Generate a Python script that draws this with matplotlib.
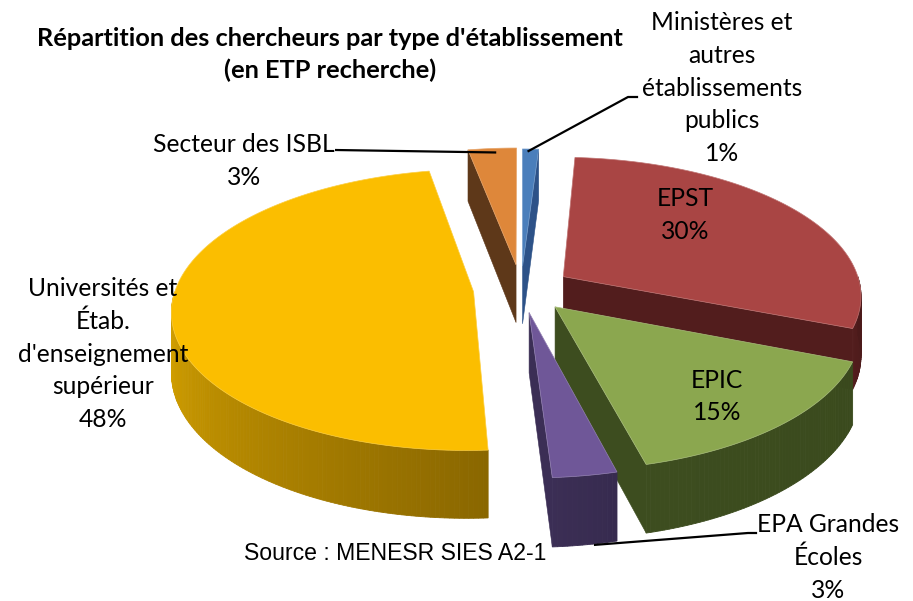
import numpy as np
import matplotlib
matplotlib.use("Agg")
import matplotlib.pyplot as plt
from matplotlib.patches import Polygon
from matplotlib.colors import to_rgb

# ---------------- data ----------------
categories = ["Ministères et\nautres\nétablissements\npublics", "EPST", "EPIC",
              "EPA Grandes\nÉcoles",
              "Universités et\nÉtab.\nd'enseignement\nsupérieur",
              "Secteur des ISBL"]
values = [1, 30, 15, 3, 48, 3]          # percent
pct_labels = ["1%", "30%", "15%", "3%", "48%", "3%"]

# ---------------- styling ----------------
top_colors = ["#4A7EBB", "#A94544", "#8BA74F", "#6F5798", "#FBBE00", "#DE873A"]
wall_light = ["#2D5288", "#521D1D", "#3D4D1F", "#3B2E55", "#DCA700", "#5E3819"]
wall_dark = ["#2D5288", "#4A1A1A", "#3A4A1D", "#372B4F", "#8A6700", "#5E3819"]
explode = [0.17, 0.17, 0.17, 0.17, 0.16, 0.18]

CX, CY = 521.0, 289.0
RX, RY = 298.0, 137.6
PERSP = 0.128
DEPTH = 59.0

W, H = 913, 601
fig = plt.figure(figsize=(W / 100, H / 100), dpi=100)
ax = fig.add_axes([0, 0, 1, 1])
ax.set_xlim(0, W)
ax.set_ylim(H, 0)
ax.axis("off")


def proj(x, y, z=0.0):
    den = 1.0 + PERSP * y
    return CX + RX * x / den, CY + (-RY * y + DEPTH * z) / den


def mix(c1, c2, t):
    a, b = np.array(to_rgb(c1)), np.array(to_rgb(c2))
    return tuple(a * (1 - t) + b * t)


total = float(sum(values))
slices = []
cum = 0.0
for i, v in enumerate(values):
    t2 = 90.0 - cum / total * 360.0
    t1 = t2 - v / total * 360.0
    cum += v
    mid = np.radians((t1 + t2) / 2)
    ox, oy = explode[i] * np.cos(mid), explode[i] * np.sin(mid)
    slices.append(dict(i=i, t1=t1, t2=t2, ox=ox, oy=oy))

# back to front order
slices.sort(key=lambda s: proj(s["ox"], s["oy"])[1])


def rim(s, th, z=0.0):
    r = np.radians(th)
    return proj(s["ox"] + np.cos(r), s["oy"] + np.sin(r), z)


for s in slices:
    i, t1, t2 = s["i"], s["t1"], s["t2"]
    apex_t = proj(s["ox"], s["oy"], 0)
    apex_b = proj(s["ox"], s["oy"], 1)
    # radial faces
    for th, vis in ((t1, np.cos(np.radians(t1)) > 1e-6),
                    (t2, np.cos(np.radians(t2)) < -1e-6)):
        if vis:
            pts = [apex_t, rim(s, th, 0), rim(s, th, 1), apex_b]
            ax.add_patch(Polygon(pts, closed=True, fc=wall_light[i],
                                 ec=wall_light[i], lw=0.4))
    # outer wall (front half)
    for k in (-1, 0, 1):
        lo, hi = -180 + 360 * k, 0 + 360 * k
        a, b = max(t1, lo), min(t2, hi)
        if b > a:
            n = max(2, int((b - a) / 0.8) + 1)
            ths = np.linspace(a, b, n)
            for j in range(n - 1):
                tt = (j + 0.5) / (n - 1)
                col = mix(wall_light[i], wall_dark[i], tt)
                pts = [rim(s, ths[j], 0), rim(s, ths[j + 1], 0),
                       rim(s, ths[j + 1], 1), rim(s, ths[j], 1)]
                ax.add_patch(Polygon(pts, closed=True, fc=col, ec=col, lw=0.6))
    # top face
    n = max(3, int((t2 - t1) / 0.5) + 1)
    ths = np.linspace(t1, t2, n)
    pts = [apex_t] + [rim(s, th, 0) for th in ths]
    ax.add_patch(Polygon(pts, closed=True, fc=top_colors[i],
                         ec=mix(top_colors[i], "#ffffff", 0.25), lw=0.5))

# ---------------- text ----------------
FONT = "Lato"
LS = 32.6


def put_lines(x, y0, lines, size=17.7, weight="normal", family=FONT):
    for k, ln in enumerate(lines):
        ax.text(x, y0 + k * LS, ln, ha="center", va="center", fontsize=size,
                fontweight=weight, family=family, color="black")


put_lines(330, 38, ["Répartition des chercheurs par type d'établissement",
                    "(en ETP recherche)"], size=18.3, weight="bold")

label_pos = {0: (722, 23), 1: (685, 199), 2: (717, 380), 3: (828, 525),
             4: (103, 289), 5: (244, 145)}
for i in range(len(values)):
    lines = categories[i].split("\n") + [pct_labels[i]]
    x, y = label_pos[i]
    put_lines(x, y, lines)

ax.text(395, 553, "Source : MENESR SIES A2-1", ha="center", va="center",
        fontsize=16.6, family="Liberation Sans", color="black")

# ---------------- leader lines ----------------
def mid_rim(idx, z):
    s = [q for q in slices if q["i"] == idx][0]
    return rim(s, (s["t1"] + s["t2"]) / 2, z)

p = mid_rim(5, 0)
ax.plot([335, p[0] + 4], [150, p[1] + 4], color="black", lw=1.6, solid_capstyle="butt")
p = mid_rim(0, 0)
ax.plot([p[0] - 2, 628, 637], [p[1] + 2, 97, 97], color="black", lw=1.6)
p = mid_rim(3, 1)
ax.plot([p[0] + 10, 748, 756], [p[1], 533, 533], color="black", lw=1.6)

fig.savefig("out.png", dpi=100)
